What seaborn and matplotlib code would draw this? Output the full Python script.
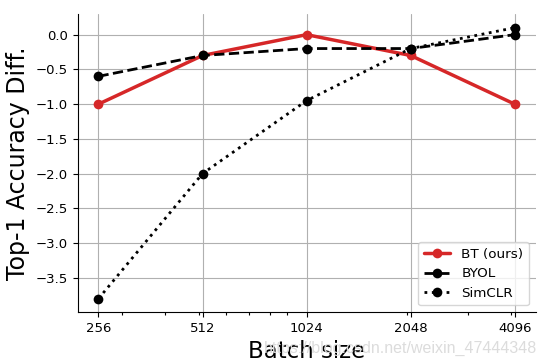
import numpy as np
import pandas as pd
import matplotlib
matplotlib.use("Agg")
import matplotlib.pyplot as plt
import matplotlib.ticker as mticker
import seaborn as sns

# values
batch_sizes = [256, 512, 1024, 2048, 4096]
bt_ours = [-1.0, -0.3, 0.0, -0.3, -1.0]
byol = [-0.6, -0.3, -0.2, -0.2, 0.0]
simclr = [-3.8, -2.0, -0.95, -0.2, 0.1]

sns.set_style("ticks", {"axes.edgecolor": "black", "text.color": "black",
                        "axes.labelcolor": "black", "xtick.color": "black",
                        "ytick.color": "black"})
plt.rcParams['font.family'] = ['DejaVu Sans']

fig = plt.figure(figsize=(5.47, 3.63), dpi=100)
ax = fig.add_axes([0.142, 0.14, 0.837, 0.821])

sns.lineplot(x=batch_sizes, y=bt_ours, ax=ax, color="#d62728", linewidth=2.5,
             marker="o", markersize=7, markeredgewidth=0, label="BT (ours)")
sns.lineplot(x=batch_sizes, y=byol, ax=ax, color="black", linewidth=2,
             linestyle="--", marker="o", markersize=7, markeredgewidth=0, label="BYOL")
sns.lineplot(x=batch_sizes, y=simclr, ax=ax, color="black", linewidth=2,
             linestyle=":", marker="o", markersize=7, markeredgewidth=0, label="SimCLR")

# base-10 log axis, majors at the batch sizes, default minor ticks without labels
ax.set_xscale("log")
ax.set_xticks(batch_sizes)
ax.xaxis.set_major_formatter(mticker.FuncFormatter(lambda v, p: "%d" % v))
ax.xaxis.set_minor_locator(mticker.LogLocator(base=10, subs=np.arange(2, 10)))
ax.xaxis.set_minor_formatter(mticker.NullFormatter())
ax.tick_params(axis="x", which="minor", length=2.5, width=0.8)
ax.grid(True, which="major", color="#b0b0b0", linewidth=0.8)
ax.tick_params(axis="both", which="major", labelsize=9.5)
sns.despine(ax=ax)

ax.set_xlabel("Batch size", fontsize=16.5)
ax.set_ylabel("Top-1 Accuracy Diff.", fontsize=17)
ax.legend(loc="lower right", fontsize=9.7)

fig.text(0.982, 0.018, "https://blog.csdn.net/weixin_47444348", fontsize=11.5,
         family="Liberation Sans", color="#dcdcdc", ha="right", va="bottom")

fig.savefig("out.png", dpi=100)
